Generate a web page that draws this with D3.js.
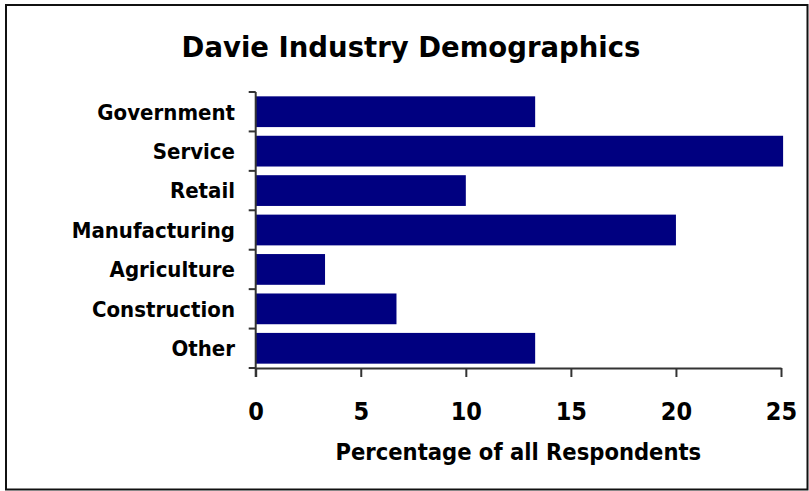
<!DOCTYPE html>
<html>
<head>
<meta charset="utf-8">
<script src="https://cdn.jsdelivr.net/npm/d3@7"></script>
<style>
  html, body { margin: 0; padding: 0; background: #fff; }
  svg text { font-family: "DejaVu Sans Condensed", "DejaVu Sans", sans-serif; font-stretch: condensed; font-weight: bold; fill: #000; }
  svg text.title { font-family: "DejaVu Sans", sans-serif; font-stretch: normal; }
</style>
</head>
<body>
<svg id="chart" width="809" height="491"></svg>
<script>
// Industry shares (percent of all respondents)
const categories = ["Government", "Service", "Retail", "Manufacturing", "Agriculture", "Construction", "Other"];
const percentages = [13.3, 25.1, 10.0, 20.0, 3.3, 6.7, 13.3];
const xTicks = [0, 5, 10, 15, 20, 25];
const titleText = "Davie Industry Demographics";
const xAxisTitle = "Percentage of all Respondents";

const svg = d3.select("#chart");

// outer frame
svg.append("rect")
  .attr("x", 6).attr("y", 5)
  .attr("width", 801.5).attr("height", 484.5)
  .attr("fill", "none").attr("stroke", "#111").attr("stroke-width", 2);

const plot = { left: 255.7, right: 781, top: 92, bottom: 368 };

const x = d3.scaleLinear().domain([0, 25]).range([plot.left, plot.right]);
const y = d3.scaleBand().domain(categories).range([plot.top, plot.bottom])
  .paddingInner(0.22).paddingOuter(0.11);

// bars
svg.append("g").selectAll("rect")
  .data(categories)
  .join("rect")
  .attr("x", x(0))
  .attr("y", d => y(d))
  .attr("width", (d, i) => x(percentages[i]) - x(0))
  .attr("height", y.bandwidth())
  .attr("fill", "#000080");

// x axis
const xAxis = svg.append("g")
  .attr("transform", `translate(0,${plot.bottom})`)
  .call(d3.axisBottom(x).tickValues(xTicks).tickSize(9).tickPadding(0).tickSizeOuter(0).tickFormat(d3.format("d")));
xAxis.select(".domain").attr("stroke", "#333").attr("stroke-width", 2);
xAxis.selectAll(".tick line").attr("stroke", "#333").attr("stroke-width", 2);
xAxis.selectAll(".tick text")
  .attr("y", 0).attr("dy", 0)
  .attr("transform", "translate(0,52)")
  .style("font-size", "25px");

// y axis: line with ticks between categories
const yAxis = svg.append("g");
yAxis.append("line")
  .attr("x1", plot.left).attr("x2", plot.left)
  .attr("y1", plot.top).attr("y2", plot.bottom + 9)
  .attr("stroke", "#333").attr("stroke-width", 2);
const step = y.step();
const boundaries = d3.range(categories.length + 1).map(i => y(categories[0]) - step * y.paddingInner() / 2 + i * step);
yAxis.selectAll("line.tick")
  .data(boundaries)
  .join("line")
  .attr("class", "tick")
  .attr("x1", plot.left - 7).attr("x2", plot.left)
  .attr("y1", d => d).attr("y2", d => d)
  .attr("stroke", "#333").attr("stroke-width", 2);

// category labels
svg.append("g").selectAll("text")
  .data(categories)
  .join("text")
  .attr("x", 235)
  .attr("y", d => y(d) + y.bandwidth() / 2)
  .attr("dy", "0.36em")
  .attr("text-anchor", "end")
  .style("font-size", "22px")
  .text(d => d);

// chart title
svg.append("text")
  .attr("class", "title")
  .attr("x", 411).attr("y", 57)
  .attr("text-anchor", "middle")
  .style("font-size", "27.5px")
  .text(titleText);

// x axis title
svg.append("text")
  .attr("x", (plot.left + plot.right) / 2).attr("y", 460)
  .attr("text-anchor", "middle")
  .style("font-size", "23.5px")
  .text(xAxisTitle);
</script>
</body>
</html>
